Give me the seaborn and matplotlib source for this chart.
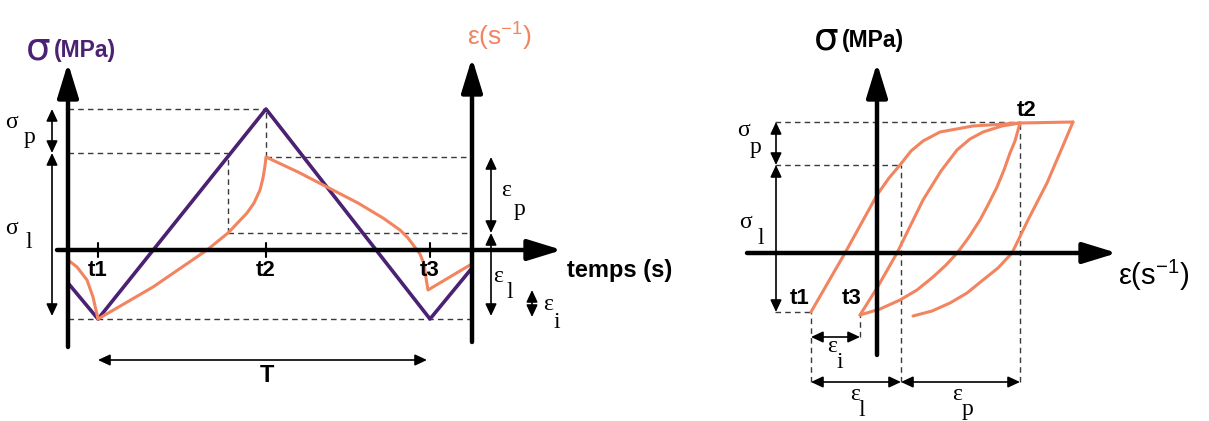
import matplotlib.pyplot as plt
import seaborn as sns

PURPLE = "#4b2173"
ORANGE = "#f2845f"
GUIDE = "#3a3a3a"

# ---- left panel: stress and strain rate vs time (schematic units) ----
t_ticks = [30, 198, 362]
t_labels = ["t1", "t2", "t3"]
sigma_time = [0, 30, 198, 362, 404]
sigma_val = [-33, -69, 141, -69, -18]
eps_time = [0, 9, 19, 25, 30, 85, 139, 160, 179, 186, 192, 195, 197, 198,
            230, 259, 290, 315, 332, 340, 346, 352, 356, 358, 360, 402]
eps_val = [-10, -17, -30, -47, -69, -37, 0, 17, 37, 47, 60, 72, 84, 93,
           78, 63, 47, 32, 20, 12, 4, -4, -14, -28, -40, -15]
sig_peak, sig_l = 141, 97
eps_peak, eps_l, low = 93, 17, -69
eps_t3 = -40
sig_cross = 160

# ---- right panel: stress vs strain rate loops ----
loop_a_x = [-66, -32, 0, 12, 23, 34, 46, 63, 96, 143, 196]
loop_a_y = [-59, 0, 58, 75, 88, 102, 112, 121, 127, 130, 131]
loop_b_x = [196, 185, 170, 152, 135, 121, 106, 90, 73, 55, 36]
loop_b_y = [131, 105, 70, 35, 0, -15, -27, -40, -50, -58, -63]
loop_c_x = [-17, 0, 20, 46, 64, 80, 93, 106, 125, 143]
loop_c_y = [-62, -35, 0, 53, 82, 103, 114, 121, 127, 130]
loop_d_x = [143, 138, 133, 127, 120, 112, 103, 92, 81, 69, 56, 40, 23, 3, -17]
loop_d_y = [130, 112, 100, 83, 66, 50, 33, 16, 1, -12, -24, -37, -47, -56, -62]
p_t1 = (-66, -59)
p_t3 = (-17, -62)
p_t2 = (143, 131)
r_sig_l = 88
r_eps_l = 24

sns.set_theme(style="white")
plt.rcParams["font.family"] = ["Liberation Sans", "DejaVu Sans"]
plt.rcParams["text.color"] = "black"

fig = plt.figure(figsize=(12.09, 4.21), dpi=100)
ax1 = fig.add_axes([0, 0, 700 / 1209, 1])
ax2 = fig.add_axes([700 / 1209, 0, 509 / 1209, 1])
ax1.set_xlim(-68, 632)
ax1.set_ylim(-171, 250)
ax2.set_xlim(-177, 332)
ax2.set_ylim(-168, 253)
for ax in (ax1, ax2):
    ax.axis("off")

dash = dict(color=GUIDE, lw=1, ls=(0, (4, 3)))


def axis_arrow(ax, start, tip):
    ax.annotate("", xy=tip, xytext=start,
                arrowprops=dict(arrowstyle="-|>,head_length=1.3,head_width=0.4",
                                lw=3.2, color="black", shrinkA=0, shrinkB=0,
                                mutation_scale=16))


def dim_arrow(ax, a, b):
    ax.annotate("", xy=b, xytext=a,
                arrowprops=dict(arrowstyle="<|-|>,head_length=0.6,head_width=0.28",
                                lw=1.2, color="black", shrinkA=0, shrinkB=0,
                                mutation_scale=12))


def sub_label(ax, x, y, sym, sub, dx=16, dy=-17, size=17):
    ax.text(x, y, sym, fontsize=size, family="Liberation Serif",
            ha="center", va="center")
    ax.text(x + dx, y + dy, sub, fontsize=size, family="Liberation Serif",
            ha="center", va="center")


# ---------------- left panel ----------------
ax1.hlines(sig_peak, 0, sigma_time[2], **dash)
ax1.hlines(sig_l, 0, sig_cross, **dash)
ax1.vlines(sig_cross, eps_l, sig_l, **dash)
ax1.hlines(eps_l, sig_cross, sigma_time[-1], **dash)
ax1.vlines(t_ticks[1], eps_peak, sig_peak, **dash)
ax1.hlines(eps_peak, t_ticks[1], sigma_time[-1], **dash)
ax1.hlines(low, 0, sigma_time[-1], **dash)

sns.lineplot(x=sigma_time, y=sigma_val, ax=ax1, color=PURPLE, lw=2.6,
             sort=False, estimator=None)
sns.lineplot(x=eps_time, y=eps_val, ax=ax1, color=ORANGE, lw=2.2,
             sort=False, estimator=None)

axis_arrow(ax1, (0, -97), (0, 187))
axis_arrow(ax1, (sigma_time[-1], -92), (sigma_time[-1], 192))
axis_arrow(ax1, (-11, 0), (494, 0))
for tx, lab in zip(t_ticks, t_labels):
    ax1.plot([tx, tx], [-7, 7], color="black", lw=1.5)
    ax1.text(tx, -21, lab, fontsize=16, fontweight="bold", ha="center",
             va="center")

dim_arrow(ax1, (-16, sig_peak), (-16, sig_l))
dim_arrow(ax1, (-16, sig_l), (-16, low + 3))
dim_arrow(ax1, (423, eps_peak), (423, eps_l))
dim_arrow(ax1, (423, eps_l), (423, low + 3))
dim_arrow(ax1, (464, eps_t3), (464, low + 2))
dim_arrow(ax1, (t_ticks[0], -110), (t_ticks[2] - 3, -110))

sub_label(ax1, -56, 127, "σ", "p", dx=17, dy=-15)
sub_label(ax1, -56, 22, "σ", "l", dx=17, dy=-15)
sub_label(ax1, 438, 60, "ε", "p", dx=13, dy=-20)
sub_label(ax1, 430, -27, "ε", "l", dx=12, dy=-16)
sub_label(ax1, 480, -55, "ε", "i", dx=9, dy=-17)

ax1.text(199, -126, "T", fontsize=17, fontweight="bold", ha="center",
         va="center")
ax1.text(499, -20, "temps (s)", fontsize=17, fontweight="bold", ha="left",
         va="center")
ax1.text(-42, 202, "σ", fontsize=28, color=PURPLE, ha="left", va="center",
         family="DejaVu Sans")
ax1.text(-14, 199, "(MPa)", fontsize=16.5, fontweight="bold", color=PURPLE,
         ha="left", va="center")
ax1.text(399, 214, r"ε(s$^{\mathregular{-1}}$)", fontsize=19, color=ORANGE,
         ha="left", va="center")

# ---------------- right panel ----------------
ax2.hlines(p_t2[1], -102, p_t2[0], **dash)
ax2.hlines(r_sig_l, -102, r_eps_l, **dash)
ax2.hlines(p_t1[1], -102, p_t1[0], **dash)
ax2.vlines(r_eps_l, -129, r_sig_l, **dash)
ax2.vlines(p_t2[0], -129, p_t2[1], **dash)
ax2.vlines(p_t1[0], -129, p_t1[1], **dash)
ax2.vlines(p_t3[0], -84, p_t3[1], **dash)

axis_arrow(ax2, (0, -102), (0, 190))
axis_arrow(ax2, (-130, 0), (240, 0))

for lx, ly in [(loop_a_x, loop_a_y), (loop_b_x, loop_b_y),
               (loop_c_x, loop_c_y), (loop_d_x, loop_d_y)]:
    sns.lineplot(x=lx, y=ly, ax=ax2, color=ORANGE, lw=2.2, sort=False,
                 estimator=None)

dim_arrow(ax2, (-101, p_t2[1]), (-101, r_sig_l))
dim_arrow(ax2, (-101, r_sig_l), (-101, p_t1[1]))
dim_arrow(ax2, (p_t1[0], -84), (p_t3[0], -84))
dim_arrow(ax2, (p_t1[0], -129), (r_eps_l, -129))
dim_arrow(ax2, (r_eps_l, -129), (p_t2[0], -129))

sub_label(ax2, -134, 123, "σ", "p", dx=13, dy=-18)
sub_label(ax2, -132, 31, "σ", "l", dx=16, dy=-16)
sub_label(ax2, -45, -94, "ε", "i", dx=8, dy=-15)
sub_label(ax2, -22, -142, "ε", "l", dx=7, dy=-15)
sub_label(ax2, 80, -142, "ε", "p", dx=10, dy=-15)

ax2.text(-77, -45, "t1", fontsize=16, fontweight="bold", ha="center",
         va="center")
ax2.text(-25, -45, "t3", fontsize=16, fontweight="bold", ha="center",
         va="center")
ax2.text(150, 143, "t2", fontsize=16, fontweight="bold", ha="center",
         va="center")
ax2.text(-63, 215, "σ", fontsize=28, ha="left", va="center",
         family="DejaVu Sans")
ax2.text(-35, 212, "(MPa)", fontsize=16.5, fontweight="bold", ha="left",
         va="center")
ax2.text(241, -22, r"ε(s$^{\mathregular{-1}}$)", fontsize=21, ha="left",
         va="center")

fig.savefig("out.png", dpi=100)
